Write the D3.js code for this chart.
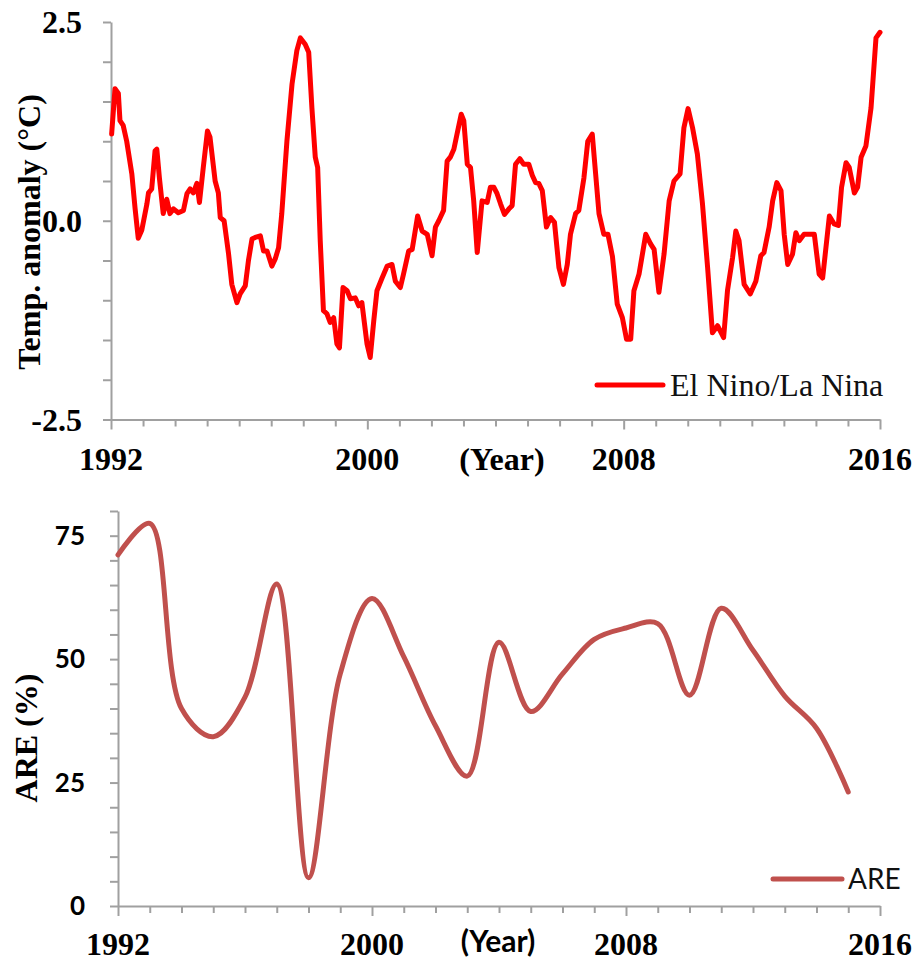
<!DOCTYPE html>
<html>
<head>
<meta charset="utf-8">
<script src="https://cdn.jsdelivr.net/npm/d3@7"></script>
<style>
  html, body { margin: 0; padding: 0; background: #fff; }
  svg { display: block; }
</style>
</head>
<body>
<svg id="chart" width="923" height="962"></svg>
<script>
// ---------- DATA ----------
// Top panel: El Nino / La Nina temperature anomaly (decimal year, °C)
const ensoYears = [
  1992.02,1992.125,1992.23,1992.28,1992.38,1992.49,1992.65,1992.75,1992.85,1992.96,
  1993.12,1993.17,1993.27,1993.375,1993.43,1993.51,1993.63,1993.74,1993.84,1993.95,
  1994.10,1994.26,1994.37,1994.47,1994.57,1994.68,1994.76,1994.88,1995.01,1995.09,
  1995.25,1995.35,1995.41,1995.53,1995.67,1995.77,1995.93,1996.03,1996.19,1996.29,
  1996.40,1996.50,1996.66,1996.76,1996.87,1997.02,1997.125,1997.23,1997.33,1997.49,
  1997.65,1997.80,1997.91,1998.06,1998.17,1998.27,1998.375,1998.45,1998.53,1998.63,
  1998.74,1998.84,1998.95,1999.05,1999.13,1999.24,1999.37,1999.47,1999.625,1999.73,
  1999.83,1999.99,2000.09,2000.20,2000.30,2000.46,2000.62,2000.77,2000.875,2001.03,
  2001.13,2001.29,2001.40,2001.57,2001.71,2001.87,2002.02,2002.125,2002.23,2002.38,
  2002.49,2002.59,2002.70,2002.80,2002.93,2003.01,2003.12,2003.22,2003.32,2003.43,
  2003.58,2003.74,2003.84,2003.95,2004.05,2004.16,2004.28,2004.42,2004.52,2004.625,
  2004.76,2004.88,2005.04,2005.15,2005.25,2005.35,2005.46,2005.59,2005.72,2005.84,
  2005.98,2006.12,2006.24,2006.34,2006.50,2006.60,2006.76,2006.88,2007.02,2007.125,
  2007.23,2007.38,2007.51,2007.65,2007.80,2007.96,2008.09,2008.22,2008.32,2008.48,
  2008.69,2008.84,2008.95,2009.10,2009.26,2009.42,2009.57,2009.76,2009.88,2010.01,
  2010.15,2010.30,2010.46,2010.62,2010.77,2010.93,2011.12,2011.24,2011.40,2011.50,
  2011.60,2011.76,2011.95,2012.125,2012.28,2012.38,2012.54,2012.65,2012.78,2012.91,
  2013.01,2013.12,2013.27,2013.375,2013.48,2013.63,2013.95,2014.10,2014.21,2014.42,
  2014.57,2014.70,2014.80,2014.94,2015.04,2015.20,2015.30,2015.41,2015.56,2015.72,
  2015.875,2016.0
];
const ensoValues = [
  1.09,1.66,1.60,1.26,1.20,1.00,0.59,0.16,-0.22,-0.12,
  0.21,0.35,0.40,0.88,0.90,0.54,0.09,0.27,0.09,0.15,
  0.10,0.13,0.34,0.40,0.35,0.47,0.23,0.67,1.13,1.05,
  0.50,0.35,0.04,0.00,-0.42,-0.80,-1.03,-0.92,-0.82,-0.50,
  -0.23,-0.21,-0.19,-0.38,-0.38,-0.57,-0.48,-0.34,0.09,1.00,
  1.72,2.14,2.30,2.22,2.12,1.42,0.80,0.67,-0.25,-1.13,
  -1.17,-1.28,-1.22,-1.55,-1.60,-0.84,-0.88,-0.98,-0.97,-1.07,
  -1.03,-1.55,-1.72,-1.26,-0.88,-0.72,-0.57,-0.55,-0.76,-0.84,
  -0.67,-0.38,-0.36,0.06,-0.13,-0.17,-0.44,-0.08,0.00,0.13,
  0.75,0.80,0.90,1.09,1.34,1.26,0.71,0.67,0.25,-0.40,
  0.25,0.23,0.42,0.42,0.34,0.21,0.08,0.15,0.19,0.71,
  0.78,0.71,0.71,0.57,0.48,0.47,0.38,-0.08,0.04,-0.02,
  -0.59,-0.80,-0.55,-0.17,0.09,0.13,0.54,1.00,1.09,0.59,
  0.09,-0.17,-0.17,-0.45,-1.05,-1.22,-1.49,-1.49,-0.88,-0.67,
  -0.17,-0.29,-0.36,-0.90,-0.42,0.25,0.50,0.59,1.17,1.41,
  1.17,0.84,0.21,-0.59,-1.41,-1.32,-1.47,-0.88,-0.46,-0.13,
  -0.25,-0.80,-0.92,-0.76,-0.44,-0.40,-0.08,0.25,0.48,0.38,
  -0.17,-0.55,-0.42,-0.15,-0.25,-0.17,-0.17,-0.67,-0.72,0.06,
  -0.04,-0.06,0.42,0.73,0.67,0.35,0.42,0.80,0.94,1.42,
  2.30,2.37
];
// Bottom panel: ARE (%) per year
const areYears = [1992,1993,1994,1995,1996,1997,1998,1999,2000,2001,2002,2003,
                  2004,2005,2006,2007,2008,2009,2010,2011,2012,2013,2014,2015];
const areValues = [71.1,77.5,40.0,34.3,42.3,65.2,5.7,47.0,62.3,50.5,36.5,26.3,
                   53.4,39.4,47.0,54.0,56.3,57.2,42.7,60.3,51.8,42.5,36.0,23.1];

// Axis / label definitions
const yearLabels = [1992, 2000, 2008, 2016];
const ensoTickLabels = [2.5, 0.0, -2.5];
const areTickLabels = [0, 25, 50, 75];
const ensoLegend = "El Nino/La Nina";
const areLegend = "ARE";
const ensoYTitle = "Temp. anomaly (°C)";
const areYTitle = "ARE (%)";
const xTitle = "(Year)";

// ---------- DRAWING ----------
const svg = d3.select("#chart");
const axisColor = "#a0a0a0";
const serif = "'Liberation Serif', 'Times New Roman', serif";
const sans = "Lato, 'Open Sans', sans-serif";

function styleAxis(g) {
  g.select(".domain").attr("stroke", axisColor).attr("stroke-width", 2);
  g.selectAll(".tick line").attr("stroke", axisColor).attr("stroke-width", 2);
  g.selectAll(".tick text").remove();
}

// ===== Top panel =====
const x1 = d3.scaleLinear().domain([1992, 2016]).range([111, 880]);
const y1 = d3.scaleLinear().domain([-2.5, 2.5]).range([419.5, 22]);

const topG = svg.append("g");
const yTicks1 = d3.range(-2.5, 2.51, 0.5);
topG.append("g").attr("transform", `translate(${x1(1992)},0)`)
  .call(d3.axisLeft(y1).tickValues(yTicks1).tickSize(8).tickSizeOuter(0))
  .call(styleAxis);
const xAx1 = topG.append("g").attr("transform", `translate(0,${y1(-2.5)})`)
  .call(d3.axisBottom(x1).tickValues(d3.range(1992, 2017)).tickSize(7).tickSizeOuter(0))
  .call(styleAxis);
xAx1.selectAll(".tick line").filter(d => (d - 1992) % 8 === 0).attr("y2", 10);

topG.append("path")
  .datum(ensoYears.map((t, i) => [t, ensoValues[i]]))
  .attr("fill", "none").attr("stroke", "#ff0000").attr("stroke-width", 5)
  .attr("stroke-linejoin", "round").attr("stroke-linecap", "round")
  .attr("d", d3.line().x(d => x1(d[0])).y(d => y1(d[1])));

topG.selectAll(".ylab").data(ensoTickLabels).join("text")
  .attr("x", 82).attr("y", d => y1(d)).attr("dy", "0.35em")
  .attr("text-anchor", "end").attr("font-family", serif).attr("font-weight", "bold")
  .attr("font-size", 32).attr("fill", "#000")
  .text(d => d.toFixed(1));

topG.selectAll(".xlab").data(yearLabels).join("text")
  .attr("x", d => x1(d)).attr("y", 470)
  .attr("text-anchor", "middle").attr("font-family", serif).attr("font-weight", "bold")
  .attr("font-size", 32).attr("fill", "#000")
  .text(d => d);

topG.append("text").attr("x", 502).attr("y", 470).attr("text-anchor", "middle")
  .attr("font-family", serif).attr("font-weight", "bold").attr("font-size", 32)
  .text(xTitle);

topG.append("text")
  .attr("transform", `translate(40,232) rotate(-90)`)
  .attr("text-anchor", "middle").attr("font-family", serif).attr("font-weight", "bold")
  .attr("font-size", 32).text(ensoYTitle);

topG.append("line").attr("x1", 597).attr("x2", 663).attr("y1", 385).attr("y2", 385)
  .attr("stroke", "#ff0000").attr("stroke-width", 5).attr("stroke-linecap", "round");
topG.append("text").attr("x", 670).attr("y", 396)
  .attr("font-family", serif).attr("font-size", 32).attr("fill", "#111")
  .text(ensoLegend);

// ===== Bottom panel =====
const x2 = d3.scaleLinear().domain([1992, 2016]).range([118, 880]);
const y2 = d3.scaleLinear().domain([0, 80]).range([906, 511]);

const botG = svg.append("g");
botG.append("g").attr("transform", `translate(${x2(1992)},0)`)
  .call(d3.axisLeft(y2).tickValues(d3.range(0, 81, 5)).tickSize(8).tickSizeOuter(0))
  .call(styleAxis);
const xAx2 = botG.append("g").attr("transform", `translate(0,${y2(0)})`)
  .call(d3.axisBottom(x2).tickValues(d3.range(1992, 2017)).tickSize(7).tickSizeOuter(0))
  .call(styleAxis);
xAx2.selectAll(".tick line").filter(d => (d - 1992) % 8 === 0).attr("y2", 10);

botG.append("path")
  .datum(areYears.map((t, i) => [t, areValues[i]]))
  .attr("fill", "none").attr("stroke", "#c0504d").attr("stroke-width", 5)
  .attr("stroke-linejoin", "round").attr("stroke-linecap", "round")
  .attr("d", d3.line().curve(d3.curveCatmullRom.alpha(0.5)).x(d => x2(d[0])).y(d => y2(d[1])));

botG.selectAll(".ylab").data(areTickLabels).join("text")
  .attr("x", 85).attr("y", d => y2(d)).attr("dy", "0.36em")
  .attr("text-anchor", "end").attr("font-family", sans).attr("font-weight", "bold")
  .attr("font-size", 26).attr("fill", "#000")
  .text(d => d);

botG.selectAll(".xlab").data(yearLabels).join("text")
  .attr("x", d => x2(d)).attr("y", 955)
  .attr("text-anchor", "middle").attr("font-family", serif).attr("font-weight", "bold")
  .attr("font-size", 32).attr("fill", "#000")
  .text(d => d);

botG.append("text").attr("x", 498).attr("y", 952).attr("text-anchor", "middle")
  .attr("font-family", sans).attr("font-weight", "bold").attr("font-size", 30)
  .text(xTitle);

botG.append("text")
  .attr("transform", `translate(37,738) rotate(-90)`)
  .attr("text-anchor", "middle").attr("font-family", serif).attr("font-weight", "bold")
  .attr("font-size", 32).text(areYTitle);

botG.append("line").attr("x1", 773).attr("x2", 842).attr("y1", 879).attr("y2", 879)
  .attr("stroke", "#c0504d").attr("stroke-width", 5).attr("stroke-linecap", "round");
botG.append("text").attr("x", 848).attr("y", 889)
  .attr("font-family", sans).attr("font-size", 28).attr("fill", "#111")
  .text(areLegend);
</script>
</body>
</html>
